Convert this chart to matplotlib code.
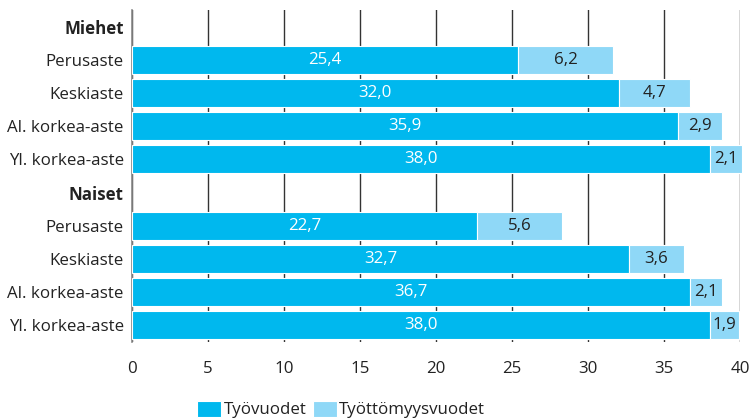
import numpy as np
import matplotlib.pyplot as plt

plt.rcParams['font.family'] = ['Open Sans', 'DejaVu Sans']

# Data
labels = ['Miehet', 'Perusaste', 'Keskiaste', 'Al. korkea-aste', 'Yl. korkea-aste',
          'Naiset', 'Perusaste', 'Keskiaste', 'Al. korkea-aste', 'Yl. korkea-aste']
headers = [0, 5]
tyo = [np.nan, 25.4, 32.0, 35.9, 38.0, np.nan, 22.7, 32.7, 36.7, 38.0]
tyoton = [np.nan, 6.2, 4.7, 2.9, 2.1, np.nan, 5.6, 3.6, 2.1, 1.9]

c_dark = '#00B8EE'
c_light = '#8FD8F7'
txt = '#222222'
fs = 12.2

fig = plt.figure(figsize=(7.5, 4.19), dpi=100)
ax = fig.add_axes([0.176, 0.184, 0.811, 0.792])

y = np.arange(len(labels))
tyo_a = np.array(tyo)
tyoton_a = np.array(tyoton)
mask = ~np.isnan(tyo_a)

b1 = ax.barh(y[mask], tyo_a[mask], height=0.85, color=c_dark, edgecolor='white',
             linewidth=0.8, label='Työvuodet', zorder=3)
b2 = ax.barh(y[mask], tyoton_a[mask], left=tyo_a[mask], height=0.85, color=c_light,
             edgecolor='white', linewidth=0.8, label='Työttömyysvuodet', zorder=3, clip_on=False)

for yi, a, b in zip(y[mask], tyo_a[mask], tyoton_a[mask]):
    ax.text(a / 2, yi, f'{a:.1f}'.replace('.', ','), ha='center', va='center',
            color='white', fontsize=fs, zorder=4)
    ax.text(a + b / 2, yi, f'{b:.1f}'.replace('.', ','), ha='center', va='center',
            color=txt, fontsize=fs, zorder=4)

ax.set_xlim(0, 40)
ax.set_ylim(9.5, -0.5)
ax.set_xticks(np.arange(0, 41, 5))
ax.set_yticks(y)
ax.set_yticklabels(labels)
for i, t in enumerate(ax.get_yticklabels()):
    if i in headers:
        t.set_fontweight('bold')
ax.tick_params(axis='y', length=0, pad=6, labelsize=fs, colors=txt)
ax.tick_params(axis='x', length=0, pad=14, labelsize=fs, colors=txt)

ax.grid(axis='x', color='#333333', linewidth=1, zorder=1)
for s in ['top', 'right', 'bottom']:
    ax.spines[s].set_visible(False)
ax.spines['left'].set_color('#888888')
ax.spines['left'].set_linewidth(1.2)

fig.legend(handles=[b1, b2], loc='lower center', bbox_to_anchor=(0.455, -0.035), ncol=2,
           frameon=False, fontsize=fs, handlelength=1.4, handleheight=1.1,
           handletextpad=0.15, columnspacing=0.4, labelcolor=txt)

fig.savefig('out.png', dpi=100)
